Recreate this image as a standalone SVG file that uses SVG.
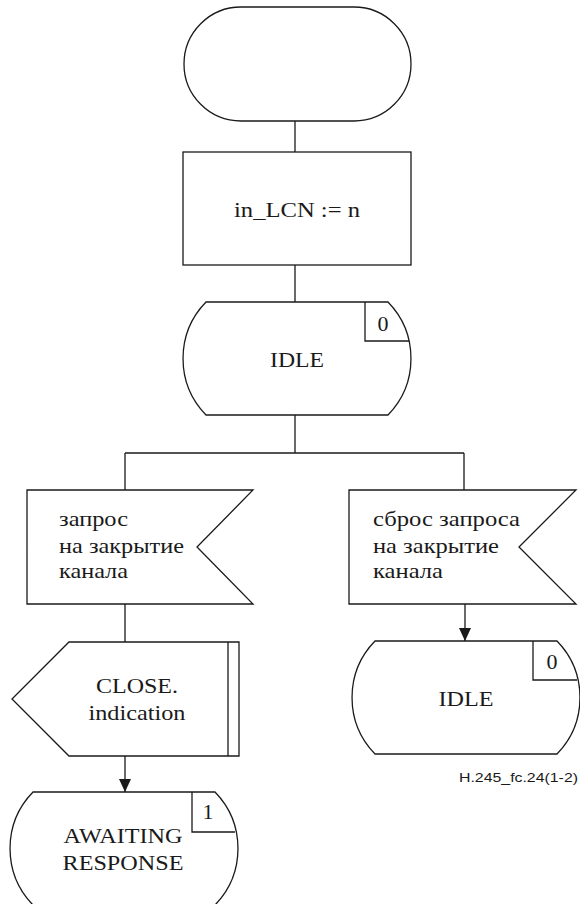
<svg xmlns="http://www.w3.org/2000/svg" width="580" height="904" viewBox="0 0 580 904">
<defs>
<style>
.s{fill:#fff;stroke:#1a1a1a;stroke-width:1.3}
.l{fill:none;stroke:#1a1a1a;stroke-width:1.3}
.t{font-family:'Liberation Serif','Times New Roman',serif;font-size:22px;fill:#1a1a1a}
.c{text-anchor:middle}
.lab{font-family:'Liberation Sans',Arial,sans-serif;font-size:12.5px;fill:#1a1a1a}
</style>
</defs>
<rect width="580" height="904" fill="#fff"/>
<g id="connectors">
<path class="l" d="M295,121 V152"/>
<path class="l" d="M295,265 V302"/>
<path class="l" d="M295,415 V453"/>
<path class="l" d="M125,453 H464"/>
<path class="l" d="M125,453 V490"/>
<path class="l" d="M464,453 V490"/>
<path class="l" d="M125,604 V642"/>
<path d="M125,756 V792" class="l"/>
<path d="M125,779 L119,779 L125,792 L131,779 Z" fill="#1a1a1a"/>
<path d="M465,604 V641" class="l"/>
<path d="M465,628 L459,628 L465,641 L471,628 Z" fill="#1a1a1a"/>
</g>
<g id="start">
<rect class="s" x="184" y="7" width="227" height="114" rx="57" ry="57"/>
</g>
<g id="task">
<rect class="s" x="183" y="152" width="228" height="113"/>
<text class="t c" x="297" y="217" textLength="126" lengthAdjust="spacingAndGlyphs">in_LCN := n</text>
</g>
<g id="state-idle-1">
<path class="s" d="M206,302 H388 A81,81 0 0 1 388,415 H206 A81,81 0 0 1 206,302 Z"/>
<path class="l" d="M365,302 V341 H409"/>
<text class="t c" x="383" y="331">0</text>
<text class="t c" x="297" y="367" textLength="54" lengthAdjust="spacingAndGlyphs">IDLE</text>
</g>
<g id="input-left">
<path class="s" d="M27,490 H253 L197,547 L253,604 H27 Z"/>
<text class="t" x="59" y="526" textLength="69" lengthAdjust="spacingAndGlyphs">запрос</text>
<text class="t" x="59" y="553" textLength="125" lengthAdjust="spacingAndGlyphs">на закрытие</text>
<text class="t" x="59" y="578" textLength="69" lengthAdjust="spacingAndGlyphs">канала</text>
</g>
<g id="input-right">
<path class="s" d="M349,490 H576 L519,547 L576,604 H349 Z"/>
<text class="t" x="373" y="526" textLength="147" lengthAdjust="spacingAndGlyphs">сброс запроса</text>
<text class="t" x="373" y="553" textLength="126" lengthAdjust="spacingAndGlyphs">на закрытие</text>
<text class="t" x="373" y="578" textLength="70" lengthAdjust="spacingAndGlyphs">канала</text>
</g>
<g id="output-close">
<path class="s" d="M69,642 H239 V756 H69 L12,699 Z"/>
<path class="l" d="M228,642 V756"/>
<text class="t c" x="137" y="693" textLength="82" lengthAdjust="spacingAndGlyphs">CLOSE.</text>
<text class="t c" x="137" y="720" textLength="97" lengthAdjust="spacingAndGlyphs">indication</text>
</g>
<g id="state-idle-2">
<path class="s" d="M375,641 H557 A81,81 0 0 1 557,754 H375 A81,81 0 0 1 375,641 Z"/>
<path class="l" d="M533,641 V680 H577"/>
<text class="t c" x="552" y="669">0</text>
<text class="t c" x="466" y="706" textLength="55" lengthAdjust="spacingAndGlyphs">IDLE</text>
</g>
<g id="state-awaiting">
<path class="s" d="M33,792 H215 A81,81 0 0 1 215,905 H33 A81,81 0 0 1 33,792 Z"/>
<path class="l" d="M192,792 V832 H235"/>
<text class="t c" x="208" y="819">1</text>
<text class="t c" x="123" y="843" textLength="119" lengthAdjust="spacingAndGlyphs">AWAITING</text>
<text class="t c" x="123" y="870" textLength="121" lengthAdjust="spacingAndGlyphs">RESPONSE</text>
</g>
<text class="lab" x="578" y="782" text-anchor="end" textLength="119" lengthAdjust="spacingAndGlyphs">H.245_fc.24(1-2)</text>
</svg>
